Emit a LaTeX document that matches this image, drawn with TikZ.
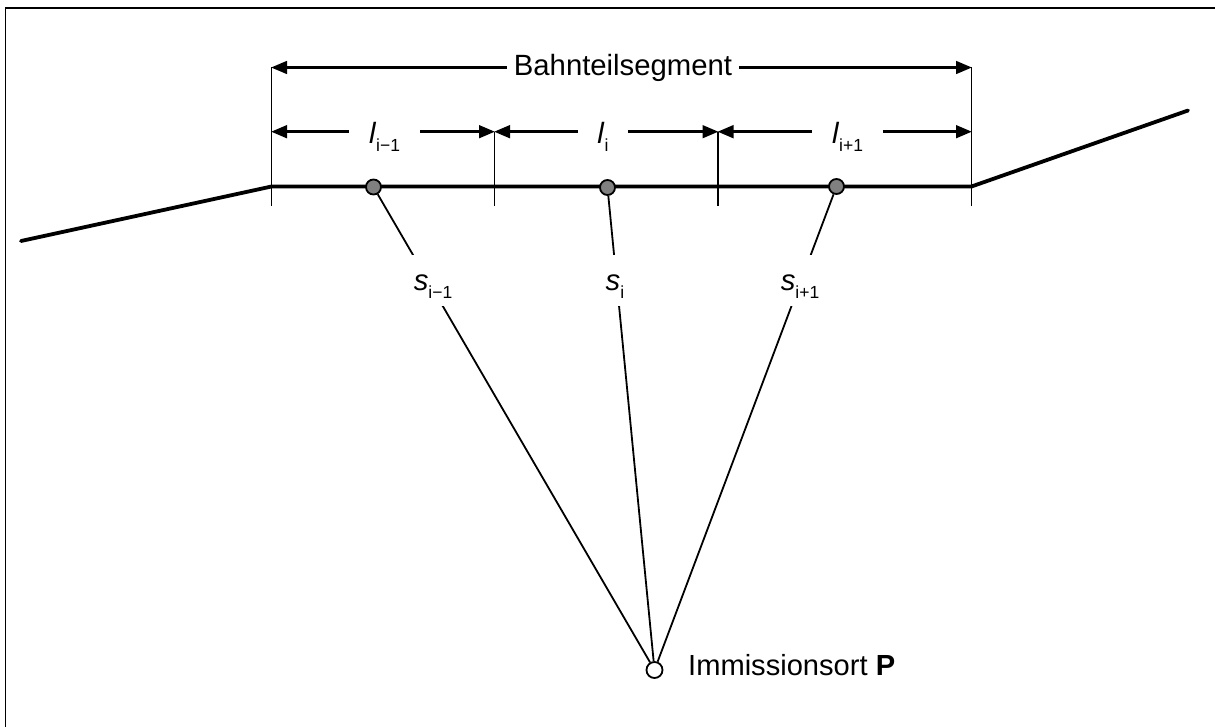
\documentclass[tikz,border=0pt]{standalone}
\usepackage{fontspec}
\setmainfont{Liberation Sans}
\usetikzlibrary{
	arrows.meta
}
\tikzset{
	thinline/.style={line width=1.8pt},
	beam/.style={line width=3.8pt,line cap=round,line join=round},
	dimline/.style={line width=3pt,{Triangle[length=16pt,width=12.5pt]}-{Triangle[length=16pt,width=12.5pt]},shorten <=-0.5pt,shorten >=-0.5pt},
	point/.style={circle,draw,line width=1.8pt,fill=black!50,minimum size=15pt,inner sep=0pt},
	gap/.style={fill=white,inner sep=0pt,font=\fontsize{29.3}{30}\selectfont},
	lenlabel/.style={gap,text height=32.6pt,text depth=8pt},
	distlabel/.style={gap,text height=35.7pt,text depth=15.3pt}
}
\newcommand{\subtxt}[2]{\textit{#1}\raisebox{-7.6pt}{\fontsize{17.5}{17.5}\selectfont #2}}
\begin{document}
\begin{tikzpicture}[x=1pt,y=-1pt]
		\useasboundingbox (0,0) rectangle (1215,727);
		\coordinate (frameA) at (5.5,727);
		\coordinate (frameB) at (5.5,8);
		\coordinate (frameC) at (1215,8);
		\draw [thinline] (frameA) -- (frameB) -- (frameC);

		\coordinate (left)  at (21,241);
		\coordinate (k0)    at (271.5,186.5);
		\coordinate (k3)    at (971.5,186.5);
		\coordinate (right) at (1188,110.5);
		\coordinate (top0)  at (271.5,67.5);
		\coordinate (top3)  at (971.5,67.5);
		\coordinate (mid0)  at (271.5,131.7);
		\coordinate (mid1)  at (494.5,131.7);
		\coordinate (mid2)  at (718,131.7);
		\coordinate (mid3)  at (971.5,131.7);
		\coordinate (low0)  at (271.5,206);
		\coordinate (low1)  at (494.5,206);
		\coordinate (low2)  at (718,206);
		\coordinate (low3)  at (971.5,206);

		\draw [thinline] (top0) -- (low0);
		\draw [thinline] (mid1) -- (low1);
		\draw [thinline] (mid2) -- (low2);
		\draw [thinline] (top3) -- (low3);
		\draw [beam] (left) -- (k0) -- (k3) -- (right);

		\draw [dimline] (top0) -- (top3);
		\draw [dimline] (mid0) -- (mid1);
		\draw [dimline] (mid1) -- (mid2);
		\draw [dimline] (mid2) -- (mid3);

		\node [gap,inner xsep=7pt,text height=23pt,text depth=6.2pt] (total) at (623,67.5) {Bahnteilsegment};
		\node [lenlabel,minimum width=71pt] (l1) at (384.5,131.7) {\subtxt{l}{i−1}};
		\node [lenlabel,minimum width=50pt] (l2) at (603,131.7) {\subtxt{l}{i}};
		\node [lenlabel,minimum width=71pt] (l3) at (847.5,131.7) {\subtxt{l}{i+1}};

		\node [point] (d1) at (373.5,187) {};
		\node [point] (d2) at (607.5,187.5) {};
		\node [point] (d3) at (836.5,186.5) {};
		\node [circle,draw,line width=1.8pt,fill=white,minimum size=16pt,inner sep=0pt] (p) at (654.5,670) {};

		\draw [thinline] (d1) -- (p);
		\draw [thinline] (d2) -- (p);
		\draw [thinline] (d3) -- (p);

		\node [distlabel,inner xsep=5pt] (s1) at (433,280.5) {\subtxt{s}{i−1}};
		\node [distlabel,inner xsep=5pt] (s2) at (615,280.5) {\subtxt{s}{i}};
		\node [distlabel,inner xsep=5pt] (s3) at (800,280.5) {\subtxt{s}{i+1}};

		\node [anchor=base west,inner sep=0pt,font=\fontsize{29.1}{30}\selectfont] (plabel) at (688,675.6) {Immissionsort \textbf{P}};
\end{tikzpicture}
\end{document}
